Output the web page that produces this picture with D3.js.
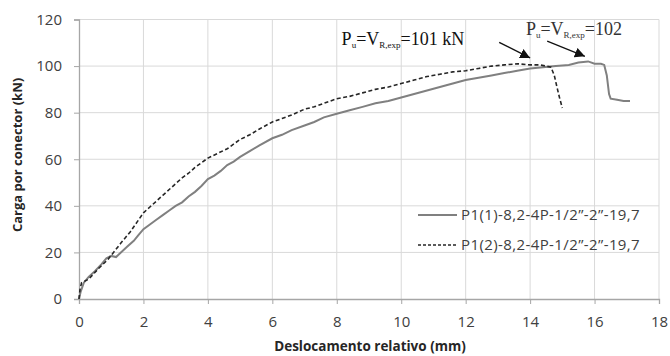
<!DOCTYPE html>
<html><head><meta charset="utf-8">
<script src="https://cdn.jsdelivr.net/npm/d3@7"></script>
<style>body{margin:0;background:#fff}svg{display:block}</style>
</head><body>
<svg id="c" width="670" height="356"></svg>
<script>
// ---- data ----
const xTicks = [0,2,4,6,8,10,12,14,16,18];
const yTicks = [0,20,40,60,80,100,120];
const seriesNames = ["P1(1)-8,2-4P-1/2”-2”-19,7", "P1(2)-8,2-4P-1/2”-2”-19,7"];
const s1x = [0,0.05,0.15,0.3,0.5,0.7,0.85,1.0,1.15,1.3,1.5,1.7,1.85,2.0,2.2,2.4,2.6,2.8,3.0,3.2,3.4,3.6,3.8,4.0,4.2,4.4,4.6,4.8,5.0,5.3,5.6,6.0,6.3,6.6,7.0,7.3,7.6,8.0,8.4,8.8,9.2,9.6,10.0,10.4,10.8,11.2,11.6,12.0,12.4,12.8,13.2,13.6,14.0,14.4,14.8,15.2,15.5,15.8,16.0,16.2,16.3,16.38,16.45,16.5,16.7,16.9,17.1];
const s1y = [0,3,7,9.5,12,15,17.5,18.5,18,20,22.5,25,27.5,30,32,34,36,38,40,41.5,44,46,48.5,51.5,53,55,57.5,59,61,63.5,66,69,70.5,72.5,74.5,76,78,79.5,81,82.5,84,85,86.5,88,89.5,91,92.5,94,95,96,97,98,99,99.5,100,100.5,101.5,102,101,101,100.5,96,88,86,85.5,85,85];
const s2x = [0,0.03,0.08,0.3,0.6,0.9,1.1,1.3,1.6,1.8,2.0,2.2,2.4,2.6,2.8,3.0,3.2,3.4,3.6,3.8,4.0,4.3,4.6,5.0,5.3,5.6,6.0,6.3,6.6,7.0,7.3,7.6,8.0,8.4,8.8,9.2,9.6,10.0,10.4,10.8,11.2,11.6,12.0,12.4,12.8,13.2,13.6,14.0,14.3,14.5,14.65,14.75,14.85,14.92,15.0];
const s2y = [0,4,7,8.5,13,17,20.5,24,29,33,37,39.5,42,44.5,47,49.5,52,54,56.5,58.5,60.5,62.5,64.5,68.5,70.5,73,76,77.5,79,81.5,82.5,84,86,87,88.5,90,91,92.5,94,95.5,96.5,97.5,98,99,100,100.5,101,100.5,100.5,100,99.5,96,90,86,82];
const annTexts = ["101 kN", "102"];
const annX = [8.15, 13.87];
const annY = [109.2, 113.5];
const arrowFromX = [13.04, 14.53], arrowFromY = [110.2, 110.7];
const arrowToX = [14.0, 15.7], arrowToY = [103.5, 104.2];

// ---- chart ----
const W=670,H=356, m={l:79,r:11,t:19.5,b:57};
const svg=d3.select("#c");
const x=d3.scaleLinear().domain([0,18]).range([m.l,W-m.r]);
const y=d3.scaleLinear().domain([0,120]).range([H-m.b,m.t]);
const font="'Open Sans', 'Liberation Sans', sans-serif";

// grid
svg.append("g").selectAll("line").data(xTicks.slice(1)).join("line")
  .attr("x1",d=>x(d)).attr("x2",d=>x(d)).attr("y1",y(0)).attr("y2",y(120))
  .attr("stroke","#d9d9d9").attr("stroke-width",1);
svg.append("g").selectAll("line").data(yTicks.slice(1)).join("line")
  .attr("x1",x(0)).attr("x2",x(18)).attr("y1",d=>y(d)).attr("y2",d=>y(d))
  .attr("stroke","#d9d9d9").attr("stroke-width",1);

// axes
const xa=svg.append("g").attr("transform",`translate(0,${y(0)})`)
  .call(d3.axisBottom(x).tickValues(xTicks).tickSize(5).tickPadding(12));
const ya=svg.append("g").attr("transform",`translate(${x(0)},0)`)
  .call(d3.axisLeft(y).tickValues(yTicks).tickSize(5).tickPadding(12));
[xa,ya].forEach(a=>{
  a.select(".domain").attr("stroke","#a6a6a6").attr("stroke-width",1.3);
  a.selectAll(".tick line").attr("stroke","#a6a6a6");
  a.selectAll("text").attr("fill","#404040").style("font-family",font).style("font-size","15px");
});

// lines
const line=d3.line().x(d=>x(d[0])).y(d=>y(d[1]));
const d1=s1x.map((v,i)=>[v,s1y[i]]);
const d2=s2x.map((v,i)=>[v,s2y[i]]);
svg.append("path").datum(d1).attr("d",line).attr("fill","none")
  .attr("stroke","#808080").attr("stroke-width",2);
svg.append("path").datum(d2).attr("d",line).attr("fill","none")
  .attr("stroke","#262626").attr("stroke-width",1.6).attr("stroke-dasharray","4,2.5");

// titles
svg.append("text").attr("x",370).attr("y",351).attr("text-anchor","middle")
  .style("font-family",font).style("font-size","13.5px").style("font-weight","bold").attr("fill","#262626")
  .text("Deslocamento relativo (mm)");
svg.append("text").attr("transform",`translate(22,155) rotate(-90)`).attr("text-anchor","middle")
  .style("font-family",font).style("font-size","13px").style("font-weight","bold").attr("fill","#262626")
  .text("Carga por conector (kN)");

// legend
const lg=svg.append("g");
[0,1].forEach(i=>{
  const yy=215+30*i;
  lg.append("line").attr("x1",418).attr("x2",457).attr("y1",yy).attr("y2",yy)
    .attr("stroke",i?"#262626":"#808080").attr("stroke-width",i?1.5:2)
    .attr("stroke-dasharray",i?"3,2":null);
  lg.append("text").attr("x",461).attr("y",yy).attr("dy","0.35em")
    .style("font-family",font).style("font-size","15px").style("letter-spacing","0.4px")
    .attr("fill","#404040").text(seriesNames[i]);
});

// annotations
svg.append("defs").append("marker").attr("id","ah").attr("viewBox","0 0 10 10")
  .attr("refX",10).attr("refY",5).attr("markerWidth",10).attr("markerHeight",10).attr("orient","auto")
  .attr("markerUnits","userSpaceOnUse")
  .append("path").attr("d","M0,0L10,5L0,10Z").attr("fill","#111");
const sizes=[18,18], cols=["#111","#333"];
annTexts.forEach((t,i)=>{
  const tx=svg.append("text").attr("x",x(annX[i])).attr("y",y(annY[i]))
    .style("font-family","'Liberation Serif','Times New Roman',serif").style("font-size",sizes[i]+"px").attr("fill",cols[i]);
  const sub=9;
  tx.append("tspan").text("P");
  tx.append("tspan").attr("dy",3).style("font-size",sub+"px").text("u");
  tx.append("tspan").attr("dy",-3).text("=V");
  tx.append("tspan").attr("dy",3).style("font-size",sub+"px").text("R,exp");
  tx.append("tspan").attr("dy",-3).text("="+t);
  svg.append("line").attr("x1",x(arrowFromX[i])).attr("y1",y(arrowFromY[i]))
    .attr("x2",x(arrowToX[i])).attr("y2",y(arrowToY[i]))
    .attr("stroke","#111").attr("stroke-width",1.3).attr("marker-end","url(#ah)");
});
</script>
</body></html>
